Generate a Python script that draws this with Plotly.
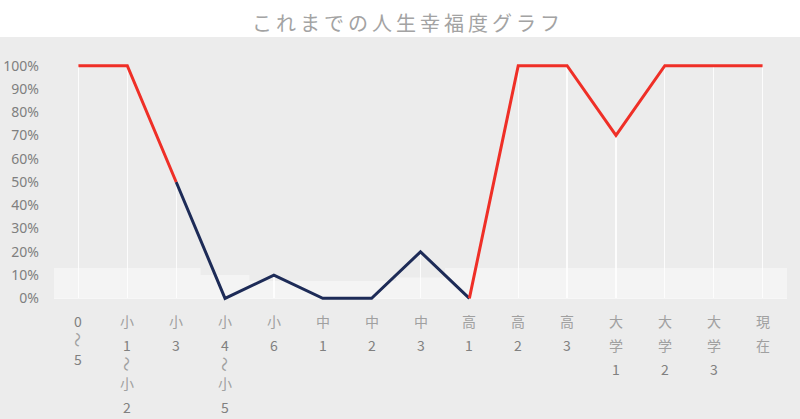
import plotly.graph_objects as go

categories = ["0～5", "小1～小2", "小3", "小4～小5", "小6", "中1", "中2", "中3",
              "高1", "高2", "高3", "大学1", "大学2", "大学3", "現在"]
happiness = [1.00, 1.00, 0.50, 0.00, 0.10, 0.00, 0.00, 0.20,
             0.00, 1.00, 1.00, 0.70, 1.00, 1.00, 1.00]
# which segment colour each point belongs to (red = good times, navy = bad times)
red_series = [1.00, 1.00, 0.50, None, None, None, None, None,
              0.00, 1.00, 1.00, 0.70, 1.00, 1.00, 1.00]
navy_series = [None, None, 0.50, 0.00, 0.10, 0.00, 0.00, 0.20,
               0.00, None, None, None, None, None, None]
glow_floor = [0.13, 0.13, 0.13, 0.10, 0.075, 0.075, 0.075, 0.09,
              0.13, 0.13, 0.13, 0.13, 0.13, 0.13, 0.13]
y_ticks = [0, 0.1, 0.2, 0.3, 0.4, 0.5, 0.6, 0.7, 0.8, 0.9, 1.0]
y_tick_text = ["0%", "10%", "20%", "30%", "40%", "50%", "60%", "70%", "80%", "90%", "100%"]

title_text = "これまでの人生幸福度グラフ"

idx = list(range(len(categories)))

fig = go.Figure()

# soft white glow area
fig.add_trace(go.Scatter(
    x=[-0.5] + idx + [len(idx) - 0.5], y=[glow_floor[0]] + glow_floor + [glow_floor[-1]],
    mode="lines", line=dict(width=0, shape="hvh"), fill="tozeroy",
    fillcolor="rgba(255,255,255,0.42)", hoverinfo="skip", showlegend=False))

# thin white spikes at each category
fig.add_trace(go.Bar(
    x=idx, y=happiness, width=0.025, marker=dict(color="rgba(255,255,255,0.85)", line=dict(width=0)),
    hoverinfo="skip", showlegend=False))

fig.add_trace(go.Scatter(x=idx, y=navy_series, mode="lines",
                         line=dict(color="#1d2b57", width=3), connectgaps=False,
                         showlegend=False))
fig.add_trace(go.Scatter(x=idx, y=red_series, mode="lines",
                         line=dict(color="#ef2f27", width=3), connectgaps=False,
                         showlegend=False))

plot_top = 60.8
plot_bottom = 303.2
ph = plot_bottom - plot_top
white_y0 = 1 + (plot_top - 36.7) / ph

# vertical (stacked) category labels
annotations = []
for i, lab in enumerate(categories):
    off = 0.0
    prev_adv = None
    for ch in lab:
        is_wave = ch == "～"
        adv = 14 if is_wave else 24
        if prev_adv is not None:
            off += (prev_adv + adv) / 2
        prev_adv = adv
        annotations.append(dict(
            x=i, y=0, xref="x", yref="paper", text=ch, showarrow=False,
            textangle=90 if is_wave else 0,
            xanchor="center", yanchor="middle", yshift=-(321 - plot_bottom) - off,
            font=dict(family="Noto Sans CJK JP", size=15 if is_wave else 14,
                      color="#a0a0a0" if (is_wave or not ch.isdigit()) else "#808080")))

fig.update_layout(
    width=800, height=419,
    margin=dict(l=53.5, r=800 - 787.5, t=plot_top, b=419 - plot_bottom, autoexpand=False),
    paper_bgcolor="#ececec", plot_bgcolor="#ececec",
    title=dict(text="\u2009".join(title_text), x=406 / 800, xref="container", xanchor="center",
               y=1 - 23.5 / 419, yref="container", yanchor="middle",
               font=dict(family="Noto Sans CJK JP", size=20, color="#a3a3a3")),
    bargap=0,
    xaxis=dict(range=[-0.5, len(categories) - 0.5], showgrid=False, zeroline=False,
               showticklabels=False, showline=False, fixedrange=True, automargin=False),
    yaxis=dict(range=[-0.02, 1.02], tickvals=y_ticks, ticktext=y_tick_text,
               showgrid=False, zeroline=True, zerolinecolor="#f6f6f6", zerolinewidth=1,
               ticklabelstandoff=14, automargin=False,
               tickfont=dict(family="Noto Sans", size=14, color="#7f7f7f")),
    shapes=[dict(type="rect", xref="paper", yref="paper", x0=-1, x1=2,
                 y0=white_y0, y1=3, fillcolor="white", line=dict(width=0), layer="below")],
    annotations=annotations,
)

fig.write_html("out.html", config={"displayModeBar": False},
               post_script="document.body.style.margin='0';")
